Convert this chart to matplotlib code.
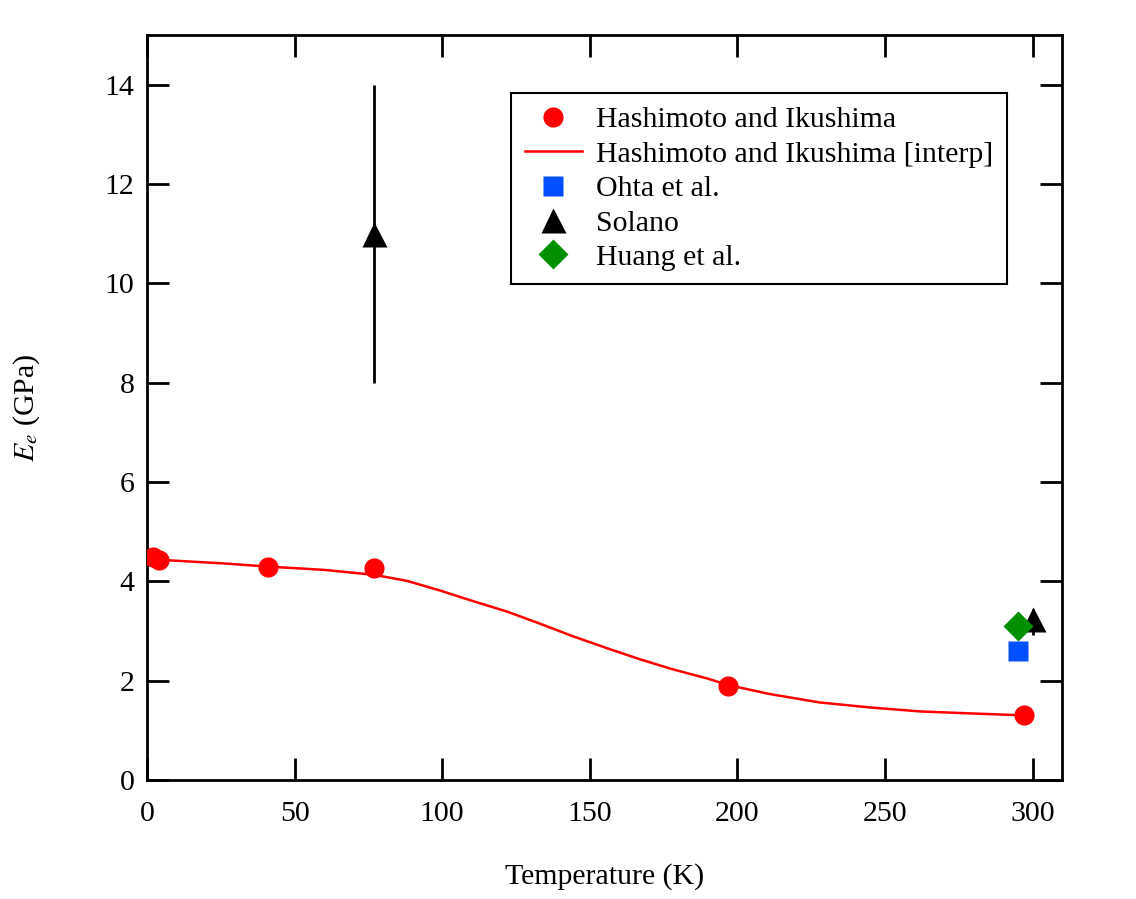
import matplotlib
matplotlib.use('Agg')
import matplotlib.pyplot as plt
import numpy as np

plt.rcParams['font.family'] = ['Liberation Serif', 'DejaVu Serif']
plt.rcParams['mathtext.fontset'] = 'stix'

# Hashimoto and Ikushima (measured points)
hash_T = [2, 4, 41, 77, 197, 297]
hash_E = [4.48, 4.43, 4.28, 4.27, 1.90, 1.31]

# Hashimoto and Ikushima [interp]
interp_T = [2, 8, 26, 40, 60, 77, 88, 99, 110, 122, 133, 144, 156, 167, 178, 190,
            197, 211, 228, 245, 262, 279, 293, 297]
interp_E = [4.45, 4.42, 4.36, 4.30, 4.23, 4.13, 4.01, 3.82, 3.61, 3.39, 3.15, 2.90,
            2.65, 2.43, 2.23, 2.04, 1.91, 1.73, 1.56, 1.46, 1.38, 1.34, 1.31, 1.30]

# Ohta et al.
ohta_T = [295]
ohta_E = [2.6]

# Solano (with error bars)
solano_T = [77, 300]
solano_E = [11.0, 3.25]
solano_err_lo = [3.0, 0.33]
solano_err_hi = [3.0, 0.2]

# Huang et al.
huang_T = [295]
huang_E = [3.1]

fig = plt.figure(figsize=(11.36, 8.99), dpi=100)
ax = fig.add_axes([0.1294, 0.1324, 0.8055, 0.8287])

h1, = ax.plot(hash_T, hash_E, 'o', color='#ff0000', ms=14.5, mec='none', zorder=4)
h2, = ax.plot(interp_T, interp_E, '-', color='#ff0000', lw=1.8, zorder=3)
h3, = ax.plot(ohta_T, ohta_E, 's', color='#0050ff', ms=15, mec='none', zorder=4)
ax.errorbar(solano_T, solano_E, yerr=[solano_err_lo, solano_err_hi], fmt='none',
            ecolor='black', elinewidth=2, capsize=0, zorder=4)
h4, = ax.plot(solano_T, solano_E, '^', color='black', ms=18, mec='none', zorder=4)
h5, = ax.plot(huang_T, huang_E, 'D', color='#009000', ms=15, mec='none', zorder=5)

ax.set_xlim(0, 310)
ax.set_ylim(0, 15)
ax.set_xticks(np.arange(0, 301, 50))
ax.set_yticks(np.arange(0, 15, 2))

for s in ax.spines.values():
    s.set_linewidth(2)
ax.tick_params(direction='in', length=16, width=2, labelsize=21.5, top=True, right=True)
ax.tick_params(axis='x', pad=15)
ax.tick_params(axis='y', pad=9)

ax.set_xlabel('Temperature (K)', fontsize=21.5, labelpad=26)
ax.set_ylabel(r'$E_e$ (GPa)', fontsize=21.5, labelpad=45)

leg = ax.legend([h1, h2, h3, h4, h5],
                ['Hashimoto and Ikushima', 'Hashimoto and Ikushima [interp]',
                 'Ohta et al.', 'Solano', 'Huang et al.'],
                loc='upper right', bbox_to_anchor=(0.94, 0.922), borderaxespad=0,
                fontsize=21.5, frameon=True, fancybox=False, edgecolor='black',
                framealpha=1, labelspacing=0.25, handlelength=1.9,
                handletextpad=0.5, borderpad=0.45)
leg.get_frame().set_linewidth(1.5)

fig.savefig('out.png', dpi=100)
